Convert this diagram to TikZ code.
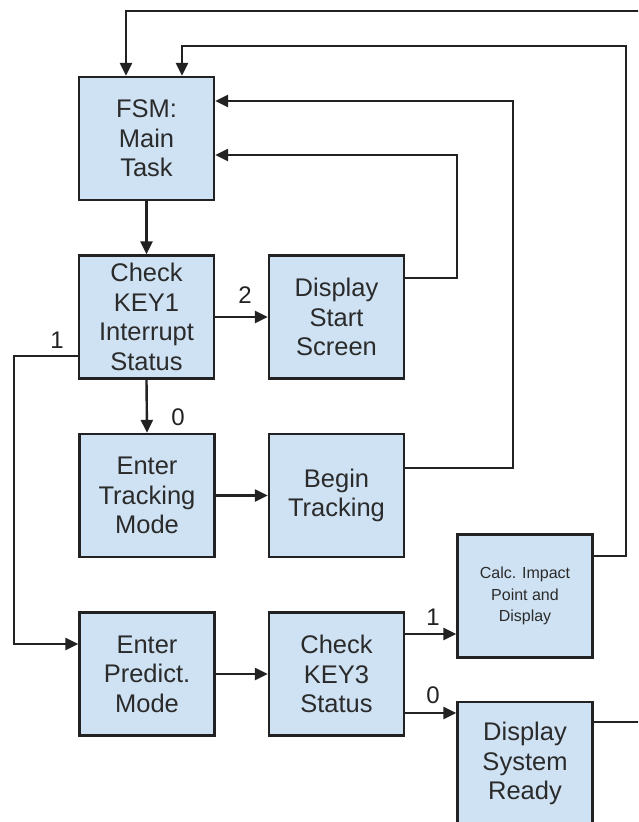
\documentclass[tikz,border=0pt]{standalone}
\usepackage{fontspec}
\setmainfont{Liberation Sans}
\usetikzlibrary{arrows.meta}

\definecolor{boxfill}{HTML}{CFE2F3}
\definecolor{boxline}{HTML}{222222}
\definecolor{boxtext}{HTML}{2B2B2B}

\tikzset{
  stepbox/.style={draw=boxline, line width=2.4pt, fill=boxfill,
    minimum width=135pt, minimum height=123pt, inner sep=0pt,
    text=boxtext, align=center,
    font=\fontsize{25.5pt}{29.5pt}\selectfont},
  smallbox/.style={stepbox, font=\fontsize{16pt}{21.5pt}\selectfont},
  link/.style={draw=boxline, line width=2.4pt},
  arr/.style={link, -{Triangle[length=13pt,width=12pt]}},
  tag/.style={text=boxline, font=\fontsize{24pt}{28pt}\selectfont, inner sep=0pt}
}

\begin{document}
\begin{tikzpicture}[x=1pt, y=-1pt]
  \clip (0,0) rectangle (638,822);
  \fill[white] (0,0) rectangle (638,822);

  % process boxes
  \node[stepbox] (fsm) at (146.5,138.5) {FSM:\\Main\\Task};
  \node[stepbox] (key1) at (146.5,317) {Check\\KEY1\\Interrupt\\Status};
  \node[stepbox] (start) at (336.5,317) {Display\\Start\\Screen};
  \node[stepbox] (track) at (147,495.5) {Enter\\Tracking\\Mode};
  \node[stepbox] (begin) at (336.5,495.5) {Begin\\Tracking};
  \node[smallbox] (calc) at (525,596) {Calc. Impact\\Point and\\Display};
  \node[stepbox] (pred) at (147,674) {Enter\\Predict.\\Mode};
  \node[stepbox] (key3) at (336.5,674) {Check\\KEY3\\Status};
  \node[stepbox] (ready) at (525,763.5) {Display\\System\\Ready};

  % routing corners
  \coordinate (leftbus) at (14,356);
  \coordinate (predin) at (14,644);
  \coordinate (startA) at (457,278);
  \coordinate (startB) at (457,155);
  \coordinate (beginA) at (513,468);
  \coordinate (beginB) at (513,101);
  \coordinate (calcA) at (626,556);
  \coordinate (calcB) at (626,46);
  \coordinate (calcC) at (182,46);
  \coordinate (readyA) at (645,722);
  \coordinate (readyB) at (645,11);
  \coordinate (readyC) at (126,11);
  \coordinate (k3up) at (404,634);
  \coordinate (k3dn) at (404,713);

  % forward flow
  \draw[arr] (fsm.south) -- (key1.north);
  \draw[arr] (key1.east) -- (start.west);
  \draw[arr] (key1.south) -- (track.north);
  \draw[arr] (key1.west |- leftbus) -- (leftbus) -- (predin) -- (pred.west |- predin);
  \draw[arr] (track.east) -- (begin.west);
  \draw[arr] (pred.east |- key3.west) -- (key3.west);
  \draw[arr] (k3up) -- (calc.west |- k3up);
  \draw[arr] (k3dn) -- (ready.west |- k3dn);

  % returns to the main task
  \draw[arr] (start.east |- startA) -- (startA) -- (startB) -- (fsm.east |- startB);
  \draw[arr] (begin.east |- beginA) -- (beginA) -- (beginB) -- (fsm.east |- beginB);
  \draw[arr] (calc.east |- calcA) -- (calcA) -- (calcB) -- (calcC) -- (calcC |- fsm.north);
  \draw[arr] (ready.east |- readyA) -- (readyA) -- (readyB) -- (readyC) -- (readyC |- fsm.north);

  % branch labels
  \node[tag] (t2) at (245,295) {2};
  \node[tag] (t0a) at (178,417) {0};
  \node[tag] (t1a) at (57,340) {1};
  \node[tag] (t1b) at (433,617) {1};
  \node[tag] (t0b) at (433,695) {0};
\end{tikzpicture}
\end{document}
